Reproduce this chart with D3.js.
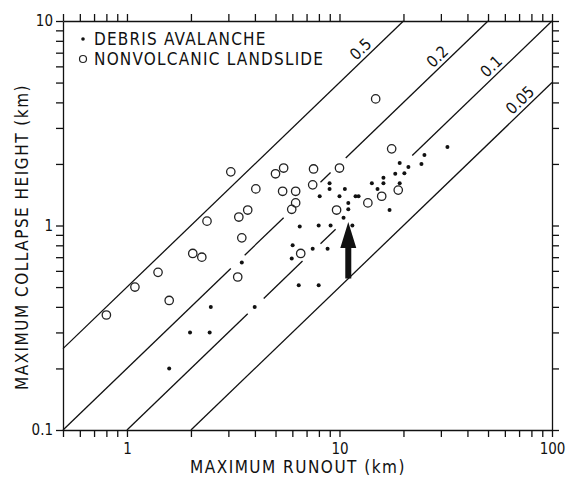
<!DOCTYPE html>
<html>
<head>
<meta charset="utf-8">
<script src="https://cdn.jsdelivr.net/npm/d3@7"></script>
<style>
  body { margin: 0; background: #fff; }
  svg text { font-family: "DejaVu Sans Condensed", "DejaVu Sans", sans-serif; fill: #111; }
</style>
</head>
<body>
<svg id="chart" width="567" height="477"></svg>
<script>
// debris avalanches (filled dots)
const runoutDebris = [1.58, 1.98, 2.45, 2.48, 3.99, 3.47, 6.02, 5.96, 6.43, 7.98, 6.50, 7.48, 8.79,
  7.98, 9.08, 11.5, 8.07, 8.98, 8.98, 10.6, 10.0, 11.9, 12.3, 11.0, 11.0, 10.45, 14.2, 15.1,
  16.1, 16.1, 17.2, 19.2, 21.1, 18.3, 20.2, 19.2, 24.3, 25.1, 32.2];
const heightDebris = [0.20, 0.30, 0.30, 0.40, 0.40, 0.66, 0.80, 0.69, 0.51, 0.51, 0.99, 0.77, 0.77,
  1.0, 1.0, 1.0, 1.39, 1.61, 1.51, 1.51, 1.39, 1.39, 1.39, 1.29, 1.20, 1.09, 1.61, 1.51,
  1.71, 1.61, 1.19, 2.02, 1.93, 1.79, 1.80, 1.61, 2.0, 2.21, 2.42];

// nonvolcanic landslides (open circles)
const runoutLandslide = [0.80, 1.09, 1.40, 1.58, 2.04, 2.25, 2.38, 3.08, 3.36, 3.70, 3.47, 3.32,
  4.04, 5.0, 5.46, 5.40, 6.22, 6.22, 5.96, 7.55, 7.48, 6.57, 10.0, 9.69, 13.6, 15.8, 17.6, 18.9, 14.8];
const heightLandslide = [0.365, 0.50, 0.59, 0.43, 0.73, 0.70, 1.05, 1.83, 1.10, 1.19, 0.87, 0.56,
  1.51, 1.79, 1.91, 1.47, 1.47, 1.29, 1.20, 1.89, 1.58, 0.73, 1.91, 1.19, 1.29, 1.39, 2.37, 1.49, 4.16];

// lines of constant H/L, with the breaks left in the original drawing (runout ranges)
const ratios = [0.5, 0.2, 0.1, 0.05];
const ratioLabels = ["0.5", "0.2", "0.1", "0.05"];
const ratioGaps = [
  [],
  [[3.08, 3.58], [5.46, 8.14], [9.08, 10.7]],
  [[3.70, 4.40], [6.70, 8.14], [9.59, 22.0]],
  []
];

// arrow (runout, from height, to height)
const arrowRunout = 11.0;
const arrowFrom = 0.55;
const arrowTo = 1.04;

const xTickValues = [0.5, 0.6, 0.7, 0.8, 0.9, 1, 2, 3, 4, 5, 6, 7, 8, 9, 10, 20, 30, 40, 50, 60, 70, 80, 90, 100];
const yTickValues = [0.1, 0.2, 0.3, 0.4, 0.5, 0.6, 0.7, 0.8, 0.9, 1, 2, 3, 4, 5, 6, 7, 8, 9, 10];
const xTickLabels = [1, 10, 100];
const yTickLabels = [0.1, 1, 10];

const plotLeft = 63, plotRight = 552, plotTop = 21, plotBottom = 430;
const svg = d3.select("#chart");

const x = d3.scaleLog().domain([0.5, 100]).range([plotLeft, plotRight]);
const y = d3.scaleLog().domain([0.1, 10]).range([plotBottom, plotTop]);

const fmtX = d => xTickLabels.includes(d) ? String(d) : "";
const fmtY = d => yTickLabels.includes(d) ? String(d) : "";

// axes, ticks on all four sides pointing outward
svg.append("g").attr("transform", `translate(0,${plotBottom})`)
  .call(d3.axisBottom(x).tickValues(xTickValues).tickFormat(fmtX).tickSize(7).tickSizeOuter(0).tickPadding(6));
svg.append("g").attr("transform", `translate(0,${plotTop})`)
  .call(d3.axisTop(x).tickValues(xTickValues).tickFormat("").tickSize(7).tickSizeOuter(0));
svg.append("g").attr("transform", `translate(${plotLeft},0)`)
  .call(d3.axisLeft(y).tickValues(yTickValues).tickFormat(fmtY).tickSize(7).tickSizeOuter(0).tickPadding(3));
svg.append("g").attr("transform", `translate(${plotRight},0)`)
  .call(d3.axisRight(y).tickValues(yTickValues).tickFormat("").tickSize(7).tickSizeOuter(0));

svg.selectAll(".domain, .tick line").attr("stroke", "#111").attr("stroke-width", 1.3);
svg.selectAll(".tick text").style("font-size", "15px").attr("fill", "#111");

// H/L lines
const line = d3.line().x(d => x(d[0])).y(d => y(d[1]));
ratios.forEach((r, i) => {
  const lo = Math.max(0.5, 0.1 / r), hi = Math.min(100, 10 / r);
  const cuts = [lo];
  ratioGaps[i].forEach(g => cuts.push(g[0], g[1]));
  cuts.push(hi);
  for (let k = 0; k < cuts.length; k += 2) {
    svg.append("path")
      .attr("d", line([[cuts[k], r * cuts[k]], [cuts[k + 1], r * cuts[k + 1]]]))
      .attr("fill", "none")
      .attr("stroke", "#111")
      .attr("stroke-width", 1.3);
  }
});

// line labels sitting on the upper-left side of each line
const labelAt = [13.5, 31, 55.6, 76];
ratios.forEach((r, i) => {
  const L = labelAt[i];
  const angle = Math.atan2(y(r * 2 * L) - y(r * L), x(2 * L) - x(L)) * 180 / Math.PI;
  svg.append("text")
    .attr("transform", `translate(${x(L)},${y(r * L)}) rotate(${angle})`)
    .attr("y", -4)
    .attr("text-anchor", "middle")
    .style("font-size", "16px")
    .text(ratioLabels[i]);
});

// data points
svg.append("g").selectAll("circle")
  .data(runoutLandslide.map((d, i) => [d, heightLandslide[i]]))
  .join("circle")
  .attr("cx", d => x(d[0]))
  .attr("cy", d => y(d[1]))
  .attr("r", 4.2)
  .attr("fill", "none")
  .attr("stroke", "#222")
  .attr("stroke-width", 1.3);

svg.append("g").selectAll("circle")
  .data(runoutDebris.map((d, i) => [d, heightDebris[i]]))
  .join("circle")
  .attr("cx", d => x(d[0]))
  .attr("cy", d => y(d[1]))
  .attr("r", 2)
  .attr("fill", "#111");

// arrow
const ax = x(arrowRunout), yb = y(arrowFrom), yt = y(arrowTo);
svg.append("path")
  .attr("d", `M${ax - 3},${yb} L${ax - 3},${yt + 26} L${ax - 8},${yt + 26} L${ax},${yt} L${ax + 8},${yt + 26} L${ax + 3},${yt + 26} L${ax + 3},${yb} Z`)
  .attr("fill", "#111");

// legend
const legend = svg.append("g").attr("transform", "translate(83,0)");
legend.append("circle").attr("cx", 0).attr("cy", 39).attr("r", 1.8).attr("fill", "#111");
legend.append("circle").attr("cx", 0).attr("cy", 59).attr("r", 3.5).attr("fill", "none").attr("stroke", "#222").attr("stroke-width", 1.2);
legend.append("text").attr("x", 11).attr("y", 45).style("font-size", "17px").style("letter-spacing", "1.2px").text("DEBRIS AVALANCHE");
legend.append("text").attr("x", 11).attr("y", 65).style("font-size", "17px").style("letter-spacing", "1.2px").text("NONVOLCANIC LANDSLIDE");

// axis titles
svg.append("text")
  .attr("x", 298).attr("y", 473)
  .attr("text-anchor", "middle")
  .style("font-size", "17px").style("letter-spacing", "1.5px")
  .text("MAXIMUM RUNOUT (km)");

svg.append("text")
  .attr("transform", `translate(28,237) rotate(-90)`)
  .attr("text-anchor", "middle")
  .style("font-size", "17px").style("letter-spacing", "1.5px")
  .text("MAXIMUM COLLAPSE HEIGHT (km)");
</script>
</body>
</html>
